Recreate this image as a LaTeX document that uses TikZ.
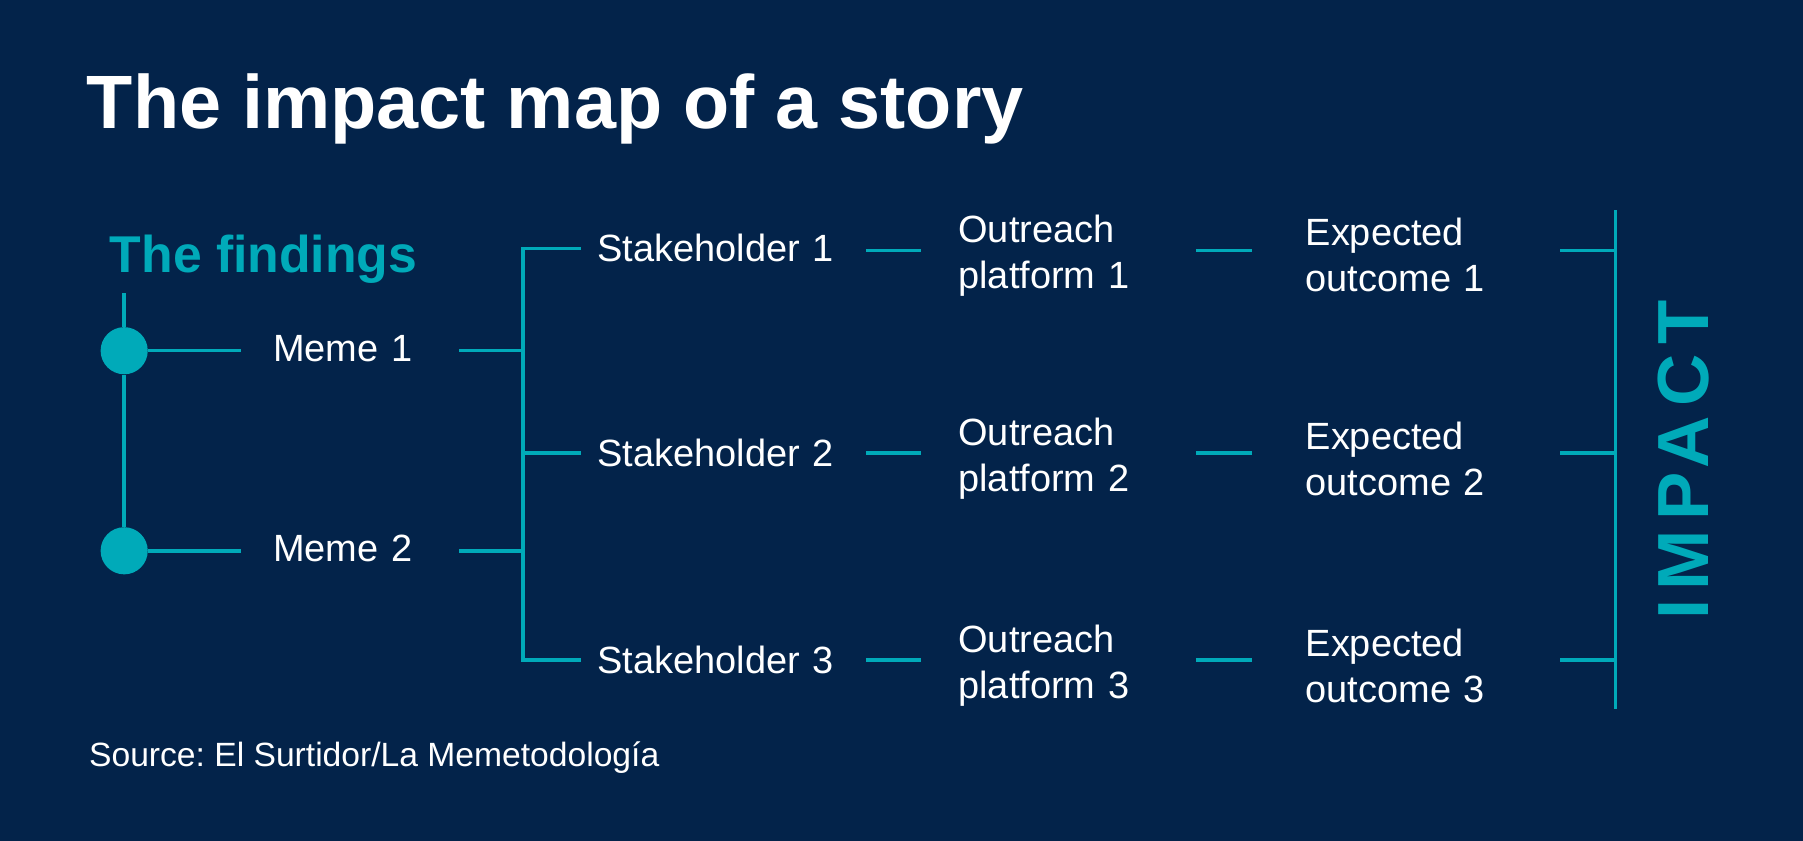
\documentclass[tikz,border=0pt]{standalone}
\usepackage{fontspec}
\setmainfont{Liberation Sans}
\usetikzlibrary{positioning}

\definecolor{navybg}{HTML}{03234A}
\definecolor{tealline}{HTML}{00AAB9}

\begin{document}
\frenchspacing
\begin{tikzpicture}[
    x=0.4pt, y=-0.4pt,
    link/.style={draw=tealline, line width=1.2pt},
    txt/.style={text=white, inner sep=0pt, align=left, font=\fontsize{13.2}{16}\selectfont},
    memebox/.style={txt, anchor=west, text width=52pt},
    stakebox/.style={txt, anchor=west, text width=84pt},
    outbox/.style={txt, text width=64pt},
    expbox/.style={txt, text width=68pt},
    dot/.style={circle, fill=tealline, inner sep=0pt, minimum size=16.4pt}
]

% Background
\fill[navybg] (0,0) rectangle (1568,731);
\useasboundingbox (0,0) rectangle (1568,731);

% Titles
\node[anchor=base west, inner sep=0pt, text=white, font=\fontsize{26.3}{30}\selectfont\bfseries] (title) at (75,112) {The impact map of a story};
\node[anchor=base west, inner sep=0pt, text=tealline, font=\fontsize{18}{22}\selectfont\bfseries] (findings) at (95,237) {The findings};
\node[anchor=base west, inner sep=0pt, text=white, font=\fontsize{11.7}{14}\selectfont] (source) at (77,667) {Source: El Surtidor/La Memetodología};
\node[inner sep=0pt, rotate=90, text=tealline, text height=18pt, text depth=0pt, font=\fontsize{25.2}{30}\selectfont\bfseries\addfontfeature{LetterSpace=13}] (impact) at (1463,400) {IMPACT};

% Nodes
\coordinate (spine) at (108,255);
\node[dot] (d1) at (108,305) {};
\node[dot] (d2) at (108,479) {};
\node[memebox] (m1) at (237,303) {Meme 1};
\node[memebox] (m2) at (237,477) {Meme 2};

\coordinate (bus) at (455,0);
\node[stakebox] (s1) at (519,216) {Stakeholder 1};
\node[stakebox] (s2) at (519,394) {Stakeholder 2};
\node[stakebox] (s3) at (519,574) {Stakeholder 3};

\node[outbox, right=41.2pt of s1, yshift=-2.4pt] (o1) {Outreach\\platform 1};
\node[outbox, right=41.2pt of s2, yshift=-2pt] (o2) {Outreach\\platform 2};
\node[outbox, right=41.2pt of s3, yshift=-2pt] (o3) {Outreach\\platform 3};

\node[expbox, right=56.4pt of o1] (e1) {Expected\\outcome 1};
\node[expbox, right=56.4pt of o2] (e2) {Expected\\outcome 2};
\node[expbox, right=56.4pt of o3] (e3) {Expected\\outcome 3};

\coordinate (row1) at (0,218);
\coordinate (row2) at (0,394);
\coordinate (row3) at (0,574);
\coordinate (bartop) at (1405,183);
\coordinate (barbot) at (1405,617);

% Lines
\draw[link] (spine) -- (d1) -- (d2);
\draw[link, shorten >=10.8pt] (d1) -- (d1 -| m1.west);
\draw[link, shorten >=10.8pt] (d2) -- (d2 -| m2.west);
\draw[link, shorten <=12.4pt] (d1 -| m1.east) -- (d1 -| bus);
\draw[link, shorten <=12.4pt] (d2 -| m2.east) -- (d2 -| bus);

\draw[link] ([xshift=-5.6pt]s1.west) -- (s1.west -| bus) -- (s3.west -| bus) -- ([xshift=-5.6pt]s3.west);
\draw[link, shorten <=5.6pt] (s2.west) -- (s2.west -| bus);

\draw[link, shorten <=9.2pt, shorten >=12.8pt] (row1 -| s1.east) -- (row1 -| o1.west);
\draw[link, shorten <=9.2pt, shorten >=12.8pt] (row2 -| s2.east) -- (row2 -| o2.west);
\draw[link, shorten <=9.2pt, shorten >=12.8pt] (row3 -| s3.east) -- (row3 -| o3.west);

\draw[link, shorten <=18.4pt, shorten >=18.4pt] (row1 -| o1.east) -- (row1 -| e1.west);
\draw[link, shorten <=18.4pt, shorten >=18.4pt] (row2 -| o2.east) -- (row2 -| e2.west);
\draw[link, shorten <=18.4pt, shorten >=18.4pt] (row3 -| o3.east) -- (row3 -| e3.west);

\draw[link, shorten <=20.4pt] (row1 -| e1.east) -- (row1 -| bartop);
\draw[link, shorten <=20.4pt] (row2 -| e2.east) -- (row2 -| bartop);
\draw[link, shorten <=20.4pt] (row3 -| e3.east) -- (row3 -| bartop);
\draw[link] (bartop) -- (barbot);

\end{tikzpicture}
\end{document}
